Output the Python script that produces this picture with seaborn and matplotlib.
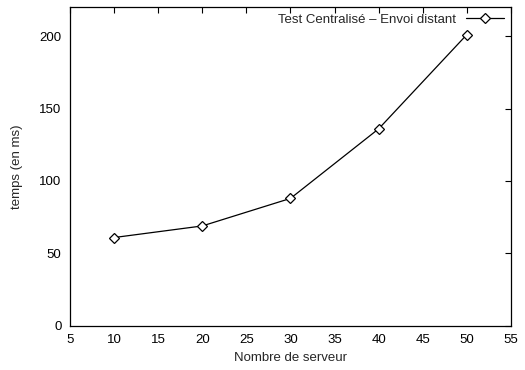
import matplotlib
matplotlib.use("Agg")
import matplotlib.pyplot as plt
import pandas as pd
import seaborn as sns

# ── data ──────────────────────────────────────────────────────────────────────
serveurs = [10, 20, 30, 40, 50]
temps_ms = [61, 69, 88, 136, 201]
serie_label = "Test Centralisé – Envoi distant"

df = pd.DataFrame({"serveurs": serveurs, "temps": temps_ms})

sns.set_style("white")
plt.rcParams["font.family"] = ["Liberation Sans", "DejaVu Sans"]
FS = 9.5

fig = plt.figure(figsize=(5.25, 3.7), dpi=100)
ax = fig.add_axes([0.1333, 0.119, 0.84, 0.862])

sns.lineplot(data=df, x="serveurs", y="temps", ax=ax, color="black",
             linewidth=0.9, marker="D", markersize=5.5,
             markerfacecolor="white", markeredgecolor="black",
             markeredgewidth=0.9, label=serie_label)

ax.set_xlim(5, 55)
ax.set_ylim(0, 220)
ax.set_xticks(range(5, 56, 5))
ax.set_yticks(range(0, 201, 50))
ax.set_xlabel("Nombre de serveur", fontsize=FS, labelpad=4)
ax.set_ylabel("temps (en ms)", fontsize=FS, labelpad=12)

ax.tick_params(direction="in", length=4, width=0.8, top=True, right=True,
               labelsize=FS, colors="black")
ax.tick_params(axis="x", pad=6)
ax.tick_params(axis="y", pad=6)
for sp in ax.spines.values():
    sp.set_color("black")
    sp.set_linewidth(0.9)

ax.legend(loc="upper right", frameon=False, markerfirst=False,
          handlelength=2.9, fontsize=FS, borderaxespad=0.2,
          handletextpad=0.8, borderpad=0.3)

fig.savefig("out.png", dpi=100)
